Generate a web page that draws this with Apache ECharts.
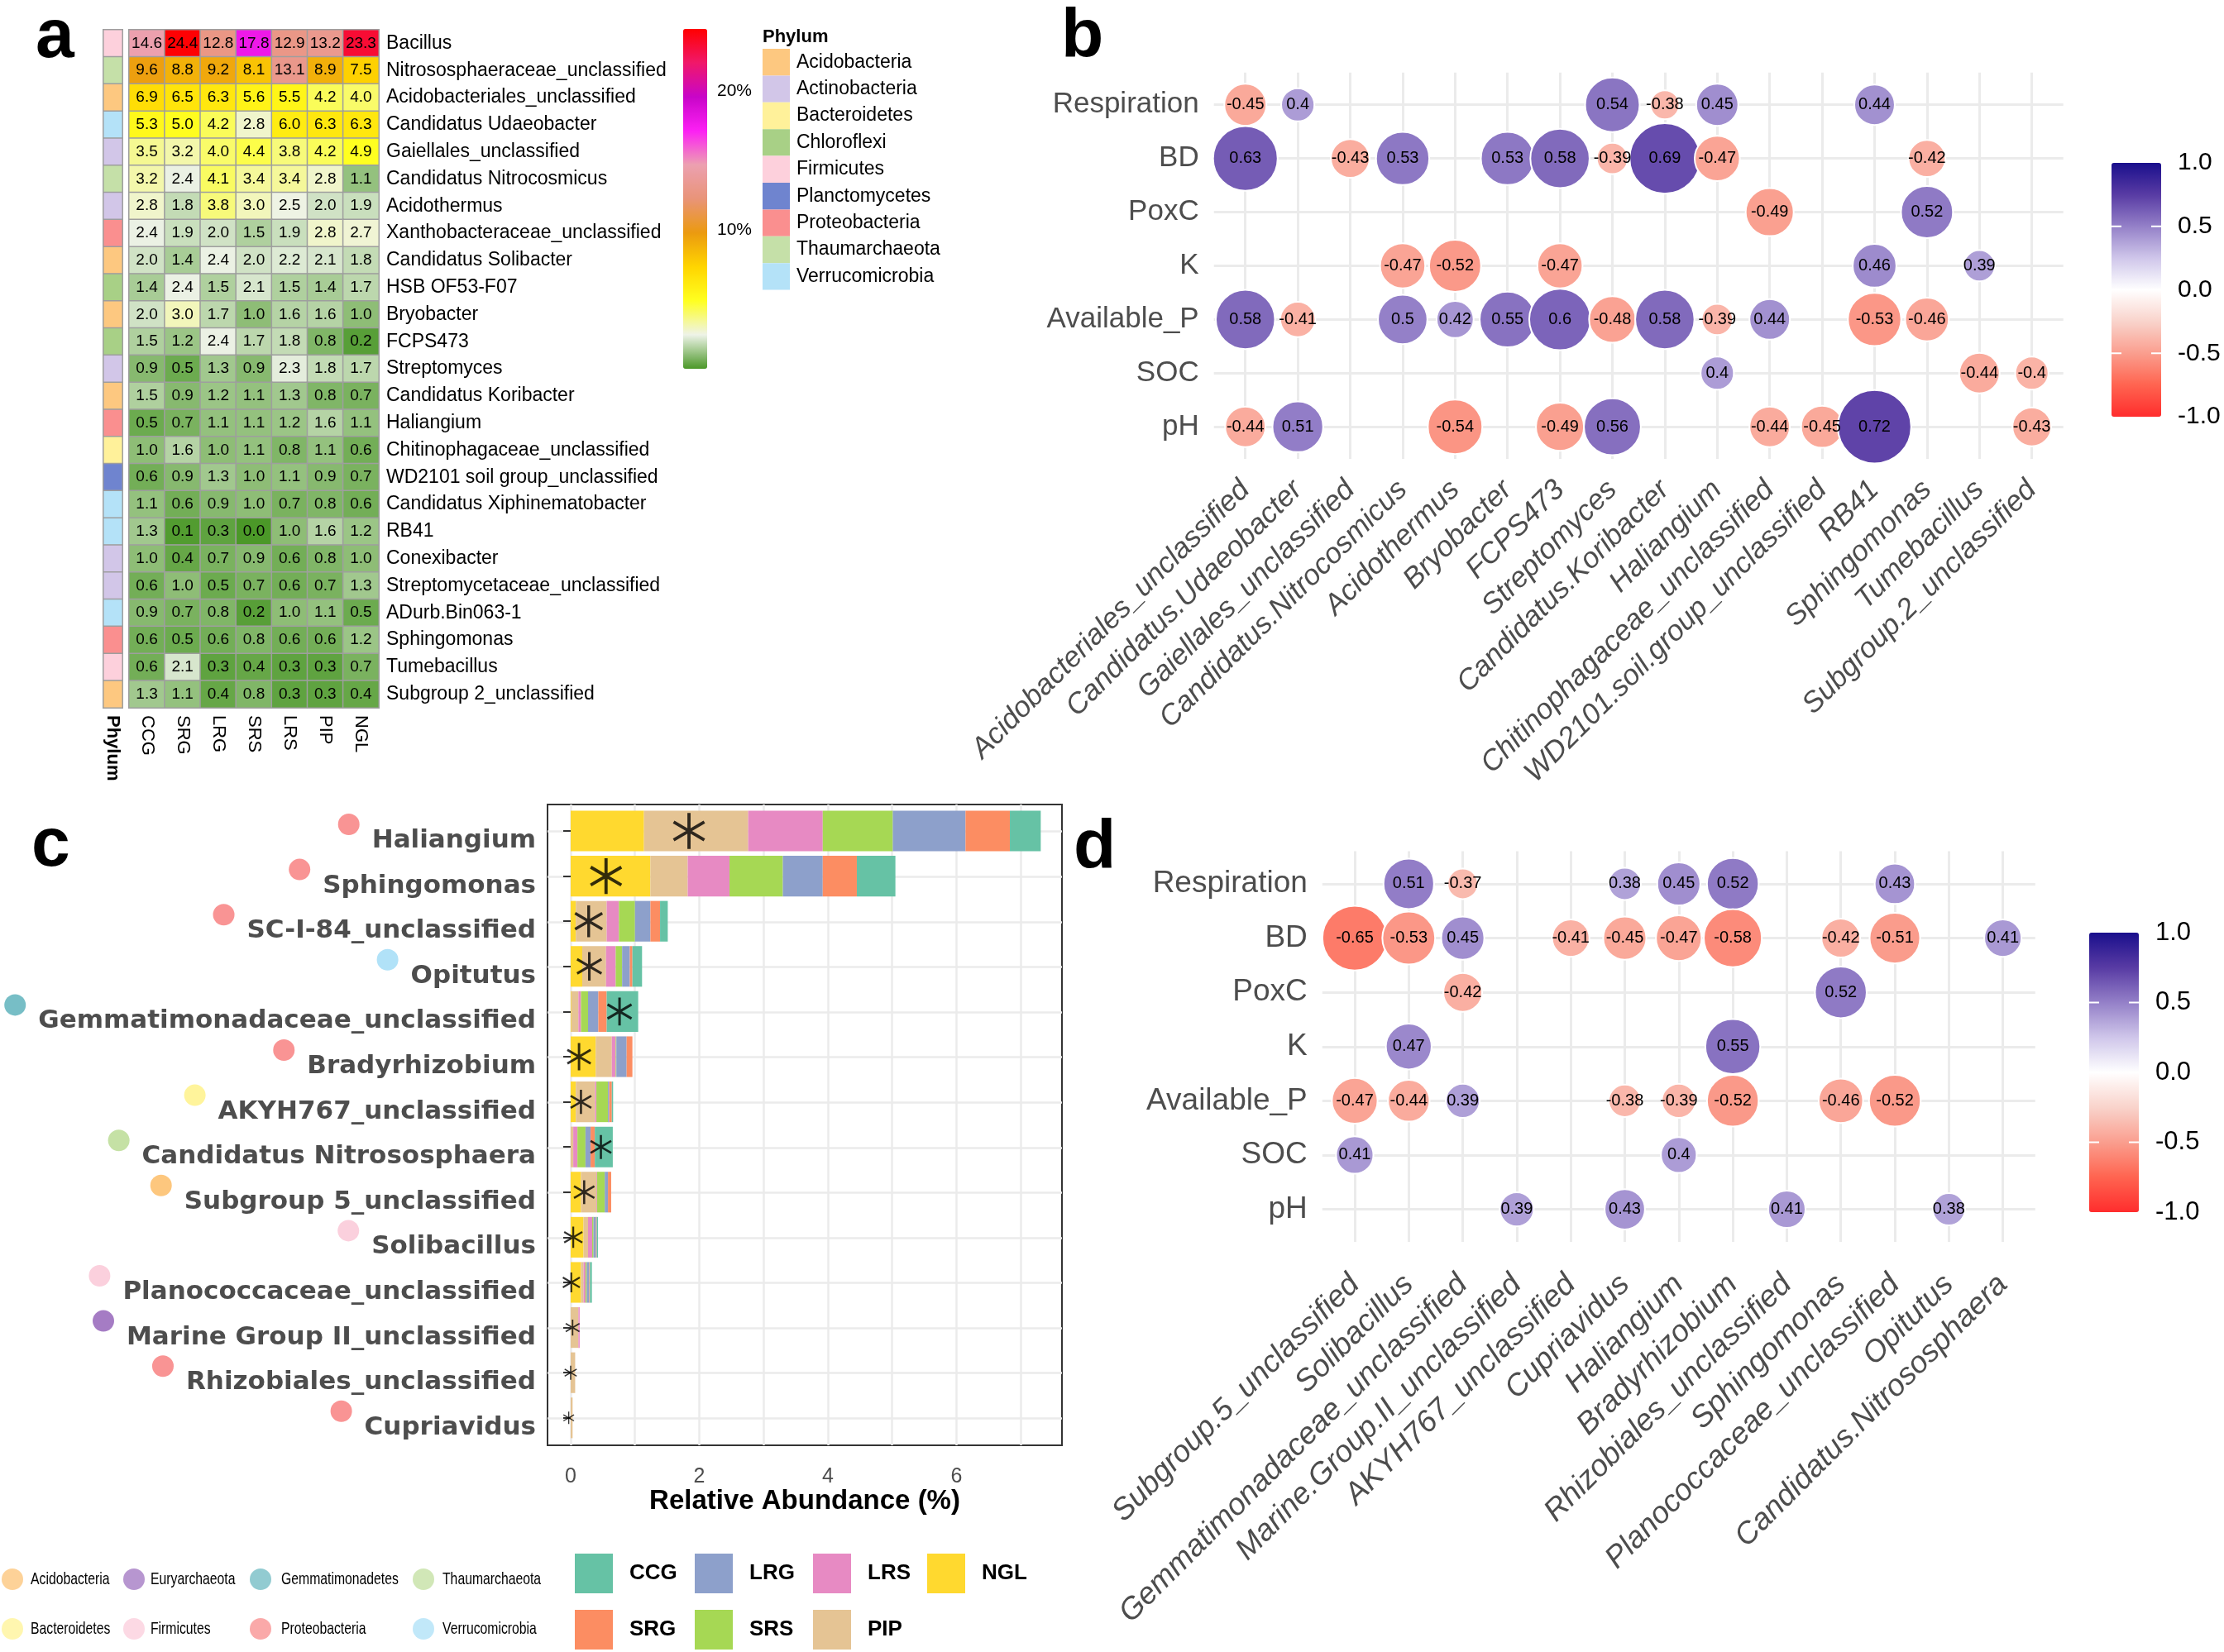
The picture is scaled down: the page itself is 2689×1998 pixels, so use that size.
<!DOCTYPE html>
<html><head><meta charset="utf-8">
<script src="https://cdn.jsdelivr.net/npm/echarts@6/dist/echarts.min.js"></script>
<style>html,body{margin:0;padding:0;background:#fff}#c{width:2689px;height:1998px}</style>
</head><body><div id="c"></div>
<script>
// ================= DATA =================
// Panel a: heatmap of relative abundance (%)
const samples = ['CCG','SRG','LRG','SRS','LRS','PIP','NGL'];
const genera = ['Bacillus','Nitrososphaeraceae_unclassified','Acidobacteriales_unclassified','Candidatus Udaeobacter','Gaiellales_unclassified','Candidatus Nitrocosmicus','Acidothermus','Xanthobacteraceae_unclassified','Candidatus Solibacter','HSB OF53-F07','Bryobacter','FCPS473','Streptomyces','Candidatus Koribacter','Haliangium','Chitinophagaceae_unclassified','WD2101 soil group_unclassified','Candidatus Xiphinematobacter','RB41','Conexibacter','Streptomycetaceae_unclassified','ADurb.Bin063-1','Sphingomonas','Tumebacillus','Subgroup 2_unclassified'];
const abundance = [
 [14.6,24.4,12.8,17.8,12.9,13.2,23.3],
 [9.6,8.8,9.2,8.1,13.1,8.9,7.5],
 [6.9,6.5,6.3,5.6,5.5,4.2,4.0],
 [5.3,5.0,4.2,2.8,6.0,6.3,6.3],
 [3.5,3.2,4.0,4.4,3.8,4.2,4.9],
 [3.2,2.4,4.1,3.4,3.4,2.8,1.1],
 [2.8,1.8,3.8,3.0,2.5,2.0,1.9],
 [2.4,1.9,2.0,1.5,1.9,2.8,2.7],
 [2.0,1.4,2.4,2.0,2.2,2.1,1.8],
 [1.4,2.4,1.5,2.1,1.5,1.4,1.7],
 [2.0,3.0,1.7,1.0,1.6,1.6,1.0],
 [1.5,1.2,2.4,1.7,1.8,0.8,0.2],
 [0.9,0.5,1.3,0.9,2.3,1.8,1.7],
 [1.5,0.9,1.2,1.1,1.3,0.8,0.7],
 [0.5,0.7,1.1,1.1,1.2,1.6,1.1],
 [1.0,1.6,1.0,1.1,0.8,1.1,0.6],
 [0.6,0.9,1.3,1.0,1.1,0.9,0.7],
 [1.1,0.6,0.9,1.0,0.7,0.8,0.6],
 [1.3,0.1,0.3,0.0,1.0,1.6,1.2],
 [1.0,0.4,0.7,0.9,0.6,0.8,1.0],
 [0.6,1.0,0.5,0.7,0.6,0.7,1.3],
 [0.9,0.7,0.8,0.2,1.0,1.1,0.5],
 [0.6,0.5,0.6,0.8,0.6,0.6,1.2],
 [0.6,2.1,0.3,0.4,0.3,0.3,0.7],
 [1.3,1.1,0.4,0.8,0.3,0.3,0.4]
];
const phyla = ['Acidobacteria','Actinobacteria','Bacteroidetes','Chloroflexi','Firmicutes','Planctomycetes','Proteobacteria','Thaumarchaeota','Verrucomicrobia'];
const genusPhylum = [4,7,0,8,1,7,1,6,0,3,0,3,1,0,6,2,5,8,8,1,1,8,6,4,0];
const heatTicks = [10, 20];

// Panel c: stacked relative abundance (%)
const cGenera = ['Haliangium','Sphingomonas','SC-I-84_unclassified','Opitutus','Gemmatimonadaceae_unclassified','Bradyrhizobium','AKYH767_unclassified','Candidatus Nitrososphaera','Subgroup 5_unclassified','Solibacillus','Planococcaceae_unclassified','Marine Group II_unclassified','Rhizobiales_unclassified','Cupriavidus'];
const cNGL = [1.14,1.24,0.08,0.18,0.01,0.39,0.08,0.00,0.16,0.20,0.16,0.00,0.00,0.00];
const cPIP = [1.62,0.58,0.48,0.37,0.11,0.25,0.30,0.04,0.24,0.07,0.04,0.12,0.07,0.03];
const cLRS = [1.16,0.65,0.19,0.15,0.04,0.06,0.02,0.065,0.01,0.065,0.03,0.02,0.00,0.00];
const cSRS = [1.09,0.83,0.25,0.10,0.11,0.01,0.18,0.125,0.12,0.02,0.02,0.00,0.00,0.00];
const cLRG = [1.13,0.62,0.24,0.12,0.16,0.16,0.02,0.08,0.05,0.04,0.04,0.00,0.00,0.00];
const cSRG = [0.69,0.53,0.15,0.04,0.13,0.09,0.04,0.065,0.05,0.01,0.01,0.00,0.00,0.00];
const cCCG = [0.48,0.60,0.12,0.15,0.49,0.00,0.02,0.28,0.00,0.02,0.03,0.00,0.00,0.00];
const cStar = [1.84,0.55,0.28,0.29,0.76,0.13,0.16,0.47,0.21,0.04,0.01,0.03,0.00,-0.03];
const cPhyla = ['Acidobacteria','Euryarchaeota','Gemmatimonadetes','Thaumarchaeota','Bacteroidetes','Firmicutes','Proteobacteria','Verrucomicrobia'];
const cGenusPhylum = [6,6,6,7,2,6,4,3,0,5,5,1,6,6];
const cTicks = [0, 2, 4, 6];

// Panels b and d: correlations
const envRows = ['Respiration','BD','PoxC','K','Available_P','SOC','pH'];
const bCols = ['Acidobacteriales_unclassified','Candidatus.Udaeobacter','Gaiellales_unclassified','Candidatus.Nitrocosmicus','Acidothermus','Bryobacter','FCPS473','Streptomyces','Candidatus.Koribacter','Haliangium','Chitinophagaceae_unclassified','WD2101.soil.group_unclassified','RB41','Sphingomonas','Tumebacillus','Subgroup.2_unclassified'];
const bCorr = [
 [0,0,-0.45],[1,0,0.4],[7,0,0.54],[8,0,-0.38],[9,0,0.45],[12,0,0.44],
 [0,1,0.63],[2,1,-0.43],[3,1,0.53],[5,1,0.53],[6,1,0.58],[7,1,-0.39],[8,1,0.69],[9,1,-0.47],[13,1,-0.42],
 [10,2,-0.49],[13,2,0.52],
 [3,3,-0.47],[4,3,-0.52],[6,3,-0.47],[12,3,0.46],[14,3,0.39],
 [0,4,0.58],[1,4,-0.41],[3,4,0.5],[4,4,0.42],[5,4,0.55],[6,4,0.6],[7,4,-0.48],[8,4,0.58],[9,4,-0.39],[10,4,0.44],[12,4,-0.53],[13,4,-0.46],
 [9,5,0.4],[14,5,-0.44],[15,5,-0.4],
 [0,6,-0.44],[1,6,0.51],[4,6,-0.54],[6,6,-0.49],[7,6,0.56],[10,6,-0.44],[11,6,-0.45],[12,6,0.72],[15,6,-0.43]
];
const dCols = ['Subgroup.5_unclassified','Solibacillus','Gemmatimonadaceae_unclassified','Marine.Group.II_unclassified','AKYH767_unclassified','Cupriavidus','Haliangium','Bradyrhizobium','Rhizobiales_unclassified','Sphingomonas','Planococcaceae_unclassified','Opitutus','Candidatus.Nitrososphaera'];
const dCorr = [
 [1,0,0.51],[2,0,-0.37],[5,0,0.38],[6,0,0.45],[7,0,0.52],[10,0,0.43],
 [0,1,-0.65],[1,1,-0.53],[2,1,0.45],[4,1,-0.41],[5,1,-0.45],[6,1,-0.47],[7,1,-0.58],[9,1,-0.42],[10,1,-0.51],[12,1,0.41],
 [2,2,-0.42],[9,2,0.52],
 [1,3,0.47],[7,3,0.55],
 [0,4,-0.47],[1,4,-0.44],[2,4,0.39],[5,4,-0.38],[6,4,-0.39],[7,4,-0.52],[9,4,-0.46],[10,4,-0.52],
 [0,5,0.41],[6,5,0.4],
 [3,6,0.39],[5,6,0.43],[8,6,0.41],[11,6,0.38]
];
const corrTicks = [1.0, 0.5, 0.0, -0.5, -1.0];

// ================= STYLES =================
const SANS = "'Liberation Sans', Arial, sans-serif";
const WIDEB = "'DejaVu Sans', Verdana, sans-serif";
const phylaColors = ['#fdc880','#d2c6e8','#fff19a','#a8d086','#fdd0dc','#6f84cf','#fa8f8f','#c5e0a8','#b4e2f8'];
const cPhylaColors = ['#fdc77e','#a57cc4','#77bec6','#c5e1a5','#fff49b','#fbd0dd','#f99494','#b1e2f8'];
const heatColors = ['#4b9828','#eef3e8','#ffff20','#ffd500','#eb9a10','#e99478','#eca0b0','#fc20f4','#c805c8','#f0186a','#ff0000'];
const corrColors = ['#ff2d2d','#ff6450','#fa9e8e','#f9d3cb','#ffffff','#cfc6ea','#9480c8','#583ba4','#1a0f8c'];
const groupColors = {CCG:'#66c2a5',SRG:'#fc8d62',LRG:'#8da0cb',LRS:'#e78ac3',SRS:'#a6d854',NGL:'#ffd92f',PIP:'#e5c494'};
const STAR = 'path://M-0.09 -1 L0.09 -1 L0.09 1 L-0.09 1 Z M0.911 0.422 L0.821 0.578 L-0.911 -0.422 L-0.821 -0.578 Z M0.821 -0.578 L0.911 -0.422 L-0.821 0.578 L-0.911 0.422 Z';

// ================= BUILD =================
const heatData = [];
abundance.forEach((row, i) => row.forEach((v, j) => heatData.push([j, i, v])));
const stripData = genusPhylum.map((p, i) => [0, i, p]);

const cStack = {NGL:cNGL, PIP:cPIP, LRS:cLRS, SRS:cSRS, LRG:cLRG, SRG:cSRG, CCG:cCCG};
const cOrder = ['NGL','PIP','LRS','SRS','LRG','SRG','CCG'];
const cTotals = cGenera.map((_, i) => cOrder.reduce((s, g) => s + cStack[g][i], 0));

const richDots = {};
cPhylaColors.forEach((c, i) => {
  richDots['ph' + i] = {width: 26, height: 26, borderRadius: 13, backgroundColor: c, lineHeight: 66, verticalAlign: 'top'};
});
richDots.t = {fontFamily: WIDEB, fontWeight: 'bold', fontSize: 31, color: '#4d4d4d', lineHeight: 36, padding: [0, 0, 0, 15]};

const gridLine = {show: true, showMinLine: false, showMaxLine: false, lineStyle: {color: '#ebebeb', width: 3}};
function corrAxes(grid, cols, fs, margin, pad) {
  return {
    x: {gridIndex: grid, type: 'value', min: -0.6, max: cols.length - 0.4, minInterval: 1, maxInterval: 1,
        axisLine: {show: false}, axisTick: {show: false}, splitLine: gridLine,
        axisLabel: {rotate: 45, margin: margin, showMinLabel: false, showMaxLabel: false,
          formatter: v => (Number.isInteger(v) && cols[v]) ? cols[v] : '',
          fontStyle: 'italic', fontSize: fs, color: '#4d4d4d', fontFamily: SANS, padding: [pad, 0, 0, 0]}},
    y: {gridIndex: grid, type: 'value', inverse: true, min: -0.6, max: envRows.length - 0.4, minInterval: 1, maxInterval: 1,
        axisLine: {show: false}, axisTick: {show: false}, splitLine: gridLine,
        axisLabel: {margin: 18, showMinLabel: false, showMaxLabel: false,
          formatter: v => (Number.isInteger(v) && envRows[v]) ? envRows[v] : '',
          fontSize: fs, color: '#4d4d4d', fontFamily: SANS}}
  };
}
const bAx = corrAxes(4, bCols, 35, 32, 74);
const dAx = corrAxes(5, dCols, 37, 46, 77);

const series = [];
// 0 heatmap
series.push({type: 'heatmap', xAxisIndex: 0, yAxisIndex: 0, data: heatData,
  itemStyle: {borderColor: '#9e9e9e', borderWidth: 1.5},
  label: {show: true, formatter: p => p.value[2].toFixed(1), fontSize: 19, fontFamily: SANS, color: '#000'}});
// 1 phylum strip
series.push({type: 'heatmap', xAxisIndex: 1, yAxisIndex: 1, data: stripData,
  itemStyle: {borderColor: '#9e9e9e', borderWidth: 1.5}, label: {show: false}});
// 2-8 bars
cOrder.forEach(g => series.push({type: 'bar', name: g, stack: 'c', xAxisIndex: 3, yAxisIndex: 3,
  data: cStack[g], barWidth: '90%', itemStyle: {color: groupColors[g]}}));
// 9 stars
series.push({type: 'scatter', xAxisIndex: 3, yAxisIndex: 3, symbol: STAR, z: 5,
  itemStyle: {color: '#000'},
  data: cStar.map((x, i) => {
    const w = Math.min(39, 10 + 20 * Math.sqrt(cTotals[i]));
    return {value: [x, i], symbolSize: [w, w / 0.9]};
  })});
// 10-17 phylum legend series (no marks)
cPhyla.forEach((p, i) => series.push({type: 'scatter', name: p, xAxisIndex: 3, yAxisIndex: 3, data: [],
  itemStyle: {color: cPhylaColors[i]}}));
// 18 b bubbles, 19 d bubbles
function bubbles(grid, data, k, v0) {
  return {type: 'scatter', xAxisIndex: grid, yAxisIndex: grid, data: data,
    symbolSize: v => Math.sqrt(k * Math.max(0.002, Math.abs(v[2]) - v0)),
    itemStyle: {opacity: 1, borderColor: '#fff', borderWidth: 2},
    label: {show: true, position: 'inside', formatter: p => String(p.value[2]), fontSize: 20, fontFamily: SANS, color: '#000'}};
}
series.push(bubbles(4, bCorr, 19500, 0.317));
series.push(bubbles(5, dCorr, 17000, 0.29));

// legends
const legends = [];
const sampleLegendPos = {CCG:[695,1879], LRG:[840,1879], LRS:[983,1879], NGL:[1121,1879], SRG:[695,1947], SRS:[840,1947], PIP:[983,1947]};
Object.keys(sampleLegendPos).forEach(g => legends.push({
  data: [{name: g, icon: 'rect'}], left: sampleLegendPos[g][0], top: sampleLegendPos[g][1], padding: 0,
  itemWidth: 46, itemHeight: 48, selectedMode: false,
  textStyle: {fontFamily: SANS, fontWeight: 'bold', fontSize: 26, color: '#000', padding: [0, 0, 0, 15]}}));
const phLegX = [2, 149, 302, 499];
const phLegTextX = [37, 182, 340, 535];
const phLegY = [1910, 1970];
cPhyla.forEach((p, i) => legends.push({
  data: [{name: p, icon: 'circle'}], left: phLegX[i % 4], top: phLegY[i < 4 ? 0 : 1] - 13, padding: 0,
  itemWidth: 26, itemHeight: 26, selectedMode: false, formatter: () => '',
  textStyle: {fontSize: 1, color: 'rgba(0,0,0,0)'}}));

// graphics
const graphics = [];
[['a',43,46],['b',1283,46],['c',38,1024],['d',1298,1027]].forEach(([t,x,y]) => graphics.push({
  type: 'text', x: x, y: y, style: {text: t, fontSize: 84, fontWeight: 'bold', fontFamily: SANS, fill: '#000',
  verticalAlign: 'middle', textVerticalAlign: 'middle'}}));
// condensed legend labels for panel c phyla
cPhyla.forEach((p, i) => graphics.push({type: 'text', x: phLegTextX[i % 4], y: phLegY[i < 4 ? 0 : 1], scaleX: 0.75,
  style: {text: p, fontSize: 21, fontFamily: SANS, fill: '#000', verticalAlign: 'middle', textVerticalAlign: 'middle'}}));
graphics.push({type: 'text', x: 922, y: 45, style: {text: 'Phylum', fontSize: 22, fontWeight: 'bold', fontFamily: SANS, fill: '#000', verticalAlign: 'middle', textVerticalAlign: 'middle'}});
const heatBar = {left: 826, top: 35, w: 29, h: 411, max: 24.5};
heatTicks.forEach(v => graphics.push({type: 'text', x: heatBar.left + heatBar.w + 12,
  y: heatBar.top + heatBar.h * (1 - v / heatBar.max),
  style: {text: v + '%', fontSize: 21, fontFamily: SANS, fill: '#000', verticalAlign: 'middle', textVerticalAlign: 'middle'}}));
const corrBars = [{left: 2553, top: 197, w: 60, h: 307, fs: 30}, {left: 2526, top: 1128, w: 60, h: 338, fs: 31}];
corrBars.forEach(b => {
  corrTicks.forEach(v => {
    const y = b.top + b.h * (1 - v) / 2;
    graphics.push({type: 'text', x: b.left + b.w + 20, y: y,
      style: {text: v.toFixed(1), fontSize: b.fs, fontFamily: SANS, fill: '#000', verticalAlign: 'middle', textVerticalAlign: 'middle'}});
    if (Math.abs(v) === 0.5 || v === 0) {
      graphics.push({type: 'line', z: 100, shape: {x1: b.left, y1: y, x2: b.left + 12, y2: y}, style: {stroke: '#fff', lineWidth: 2}});
      graphics.push({type: 'line', z: 100, shape: {x1: b.left + b.w - 12, y1: y, x2: b.left + b.w, y2: y}, style: {stroke: '#fff', lineWidth: 2}});
    }
  });
});

const option = {
  animation: false,
  backgroundColor: '#fff',
  grid: [
    {left: 156, top: 36, width: 302, height: 820},
    {left: 125, top: 36, width: 23, height: 820},
    {left: 662, top: 973, width: 622, height: 775, show: true, borderColor: '#333', borderWidth: 2},
    {left: 662, top: 977.7, width: 622, height: 764.4},
    {left: 1467.7, top: 87.8, width: 1027, height: 467.3},
    {left: 1598.8, top: 1029.6, width: 862, height: 472.3}
  ],
  xAxis: [
    {gridIndex: 0, type: 'category', data: samples, axisLine: {show: false}, axisTick: {show: false},
     axisLabel: {rotate: -90, margin: 9, fontSize: 22, fontFamily: SANS, color: '#000'}},
    {gridIndex: 1, type: 'category', data: ['Phylum'], axisLine: {show: false}, axisTick: {show: false},
     axisLabel: {rotate: -90, margin: 9, fontSize: 22, fontWeight: 'bold', fontFamily: SANS, color: '#000'}},
    {gridIndex: 2, type: 'value', min: -0.36, max: 7.64, minInterval: 1, maxInterval: 1,
     axisLine: {show: false}, axisTick: {show: false},
     splitLine: {show: true, showMinLine: false, showMaxLine: false, lineStyle: {color: '#ebebeb', width: 2.5}},
     axisLabel: {margin: 26, showMinLabel: false, showMaxLabel: false, fontSize: 25, fontFamily: SANS, color: '#4d4d4d',
       formatter: v => cTicks.indexOf(v) >= 0 ? String(v) : ''},
     name: 'Relative Abundance (%)', nameLocation: 'middle', nameGap: 48,
     nameTextStyle: {fontSize: 33, fontWeight: 'bold', fontFamily: SANS, color: '#000'}},
    {gridIndex: 3, type: 'value', min: -0.36, max: 7.64, show: false},
    bAx.x, dAx.x
  ],
  yAxis: [
    {gridIndex: 0, type: 'category', data: genera, inverse: true, position: 'right', axisLine: {show: false}, axisTick: {show: false},
     axisLabel: {margin: 9, fontSize: 23, fontFamily: SANS, color: '#000'}},
    {gridIndex: 1, type: 'category', data: genera, inverse: true, show: false},
    {gridIndex: 2, type: 'value', min: -0.6, max: 13.6, inverse: true, minInterval: 1, maxInterval: 1,
     axisLine: {show: false}, axisTick: {show: false}, axisLabel: {show: false},
     splitLine: {show: true, showMinLine: false, showMaxLine: false, lineStyle: {color: '#ebebeb', width: 2.5}}},
    {gridIndex: 3, type: 'category', data: cGenera, inverse: true, axisLine: {show: false},
     axisTick: {show: true, alignWithLabel: true, length: 9, lineStyle: {color: '#333', width: 2}},
     axisLabel: {interval: 0, margin: 14, rich: richDots, padding: [24, 0, 0, 0],
       formatter: (v, i) => '{ph' + cGenusPhylum[i] + '|}{t|' + v + '}'}},
    bAx.y, dAx.y
  ],
  visualMap: [
    {type: 'continuous', seriesIndex: 0, dimension: 2, min: 0, max: heatBar.max, calculable: false, padding: 0,
     left: heatBar.left, top: heatBar.top, itemWidth: heatBar.w, itemHeight: heatBar.h, text: null, showLabel: false,
     inRange: {color: heatColors}},
    {type: 'piecewise', seriesIndex: 1, dimension: 2, orient: 'vertical', inverse: true, padding: 0,
     left: 922, top: 59, itemWidth: 33, itemHeight: 32.4, itemGap: 0, textGap: 8, itemSymbol: 'rect', selectedMode: false,
     textStyle: {fontSize: 23, fontFamily: SANS, color: '#000'},
     pieces: phyla.map((p, i) => ({value: i, label: p, color: phylaColors[i]}))},
    {type: 'continuous', seriesIndex: 18, dimension: 2, min: -1, max: 1, calculable: false, padding: 0,
     left: corrBars[0].left, top: corrBars[0].top, itemWidth: corrBars[0].w, itemHeight: corrBars[0].h, text: null,
     inRange: {color: corrColors}},
    {type: 'continuous', seriesIndex: 19, dimension: 2, min: -1, max: 1, calculable: false, padding: 0,
     left: corrBars[1].left, top: corrBars[1].top, itemWidth: corrBars[1].w, itemHeight: corrBars[1].h, text: null,
     inRange: {color: corrColors}}
  ],
  legend: legends,
  series: series,
  graphic: graphics
};
const chart = echarts.init(document.getElementById('c'), null, {renderer: 'canvas', width: 2689, height: 1998});
chart.setOption(option);
</script></body></html>
